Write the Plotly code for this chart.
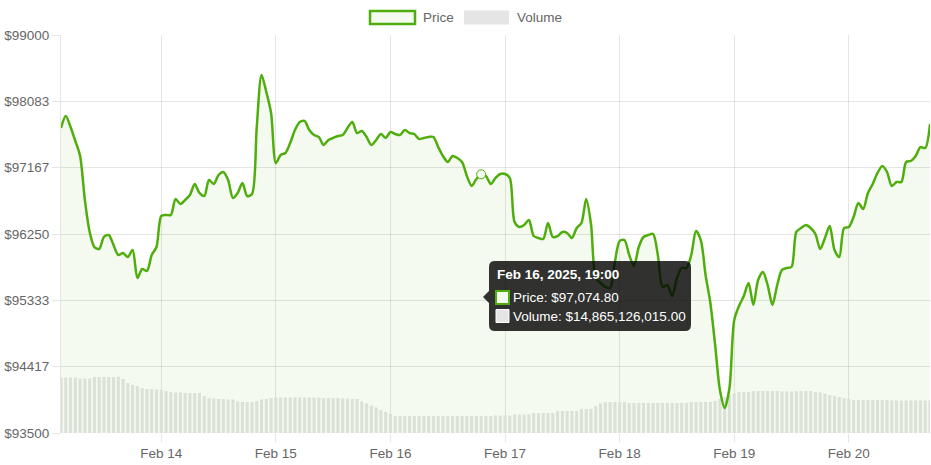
import pandas as pd
import plotly.graph_objects as go

# ---------------- data ----------------
start_time = "2025-02-13 03:00"
n_hours = 183
times = pd.date_range(start_time, periods=n_hours, freq="h")

price = [
    97715, 97881, 97729, 97535, 97328, 96720, 96278, 96070, 96043, 96209,
    96236, 96098, 95960, 95987, 95932, 96029, 95642, 95766, 95739, 95960,
    96070, 96499, 96513, 96513, 96734, 96665, 96720, 96789, 96941, 96817,
    96775, 96996, 96941, 97065, 97107, 96996, 96748, 96817, 96955, 96775,
    96803, 97729, 98447, 98212, 97922, 97231, 97342, 97369, 97508, 97687,
    97798, 97812, 97687, 97618, 97591, 97480, 97549, 97577, 97604, 97618,
    97715, 97798, 97646, 97673, 97591, 97480, 97549, 97632, 97577, 97660,
    97632, 97618, 97687, 97646, 97632, 97563, 97577, 97591, 97591, 97452,
    97328, 97245, 97328, 97300, 97245, 97052, 96913, 97010, 97074.80, 97052,
    96941, 97024, 97079, 97079, 97024, 96416, 96347, 96374, 96444, 96222,
    96195, 96181, 96402, 96209, 96222, 96278, 96264, 96195, 96333, 96402,
    96734, 96388, 95642, 95573, 95518, 95504, 95863, 96153, 96167, 95960,
    95808, 96070, 96209, 96236, 96250, 95960, 95518, 95545, 95393, 95642,
    95780, 95780, 95960, 96292, 96167, 95683, 95297, 94716, 94094, 93846,
    94122, 95062, 95255, 95393, 95573, 95269, 95614, 95725, 95545, 95269,
    95545, 95753, 95780, 95794, 96278, 96333, 96374, 96333, 96250, 96043,
    96195, 96361, 96029, 95932, 96333, 96347, 96485, 96678, 96596, 96817,
    96941, 97093, 97190, 97107, 96913, 96969, 96969, 97245, 97259, 97328,
    97452, 97438, 97770,
]

# volume in billions of USD
volume_bn = [
    48.53, 48.53, 48.53, 48.53, 47.65, 47.65, 47.65, 48.97, 48.97, 48.97,
    48.97, 48.97, 49.23, 47.22, 43.72, 41.97, 41.10, 39.35, 38.47, 38.47,
    38.04, 37.60, 36.72, 35.85, 35.41, 35.41, 34.98, 34.98, 34.98, 34.98,
    32.35, 30.60, 30.17, 29.73, 29.73, 29.29, 29.29, 27.54, 27.11, 27.11,
    27.11, 27.98, 29.29, 29.73, 30.60, 31.04, 31.04, 31.04, 31.04, 31.04,
    31.04, 31.04, 31.04, 31.04, 31.04, 30.60, 30.60, 30.60, 30.60, 30.17,
    30.17, 29.73, 29.73, 27.54, 25.79, 24.05, 22.30, 20.11, 18.36, 16.61,
    14.87, 14.87, 14.87, 14.87, 14.87, 14.87, 14.87, 14.87, 14.87, 14.87,
    14.87, 14.87, 14.87, 14.87, 14.87, 14.87, 14.87, 14.87, 14.865126015, 14.87,
    14.87, 15.30, 15.30, 15.30, 15.30, 16.18, 16.18, 16.18, 16.18, 17.49,
    17.49, 17.49, 17.49, 17.49, 19.24, 19.24, 19.24, 19.24, 19.24, 20.99,
    20.99, 20.99, 23.61, 25.79, 27.11, 27.11, 27.11, 27.11, 27.11, 26.23,
    26.23, 26.23, 26.23, 26.23, 26.23, 26.23, 26.23, 26.23, 26.23, 26.23,
    26.23, 26.23, 27.11, 27.11, 27.11, 27.11, 27.11, 27.98, 29.73, 31.48,
    33.23, 34.54, 35.85, 35.85, 35.85, 36.72, 36.72, 36.72, 36.72, 36.72,
    36.72, 36.29, 36.29, 36.29, 36.72, 36.72, 36.72, 36.72, 35.85, 35.41,
    34.54, 33.23, 32.35, 31.48, 30.60, 29.73, 28.86, 28.86, 28.86, 28.86,
    28.86, 28.86, 28.86, 28.86, 28.42, 28.42, 28.42, 28.42, 28.42, 28.42,
    28.42, 28.42, 28.42,
]

hover_index = 88
tooltip_title = "Feb 16, 2025, 19:00"
tooltip_price = "Price: $97,074.80"
tooltip_volume = "Volume: $14,865,126,015.00"

y_tick_values = [93500, 94417, 95333, 96250, 97167, 98083, 99000]
y_tick_labels = ["$93500", "$94417", "$95333", "$96250", "$97167", "$98083", "$99000"]
x_tick_dates = ["2025-02-14", "2025-02-15", "2025-02-16", "2025-02-17",
                "2025-02-18", "2025-02-19", "2025-02-20"]
x_tick_labels = ["Feb 14", "Feb 15", "Feb 16", "Feb 17", "Feb 18", "Feb 19", "Feb 20"]

# ---------------- style ----------------
W, H = 931, 465
L, R, T, B = 61, 1, 35, 32
GREEN = "#4fae0c"
FILL = "rgba(79,174,12,0.06)"
GRID = "rgba(0,0,0,0.1)"
TXT = "#666666"
FONT = "Liberation Sans, Arial, Helvetica, sans-serif"
FS = 13.5

pw, ph = W - L - R, H - T - B


def px(x):
    return (x - L) / pw


def py(y):
    return (H - B - y) / ph


volume = [v * 1e9 for v in volume_bn]

fig = go.Figure()
fig.add_trace(go.Bar(
    x=times, y=volume, yaxis="y", marker=dict(color="#e5e5e5", line=dict(width=0)),
    name="Volume", showlegend=False, hoverinfo="skip",
))
fig.add_trace(go.Scatter(
    x=times, y=price, yaxis="y2", mode="lines",
    line=dict(color=GREEN, width=2.5, shape="spline", smoothing=0.8),
    fill="tozeroy", fillcolor=FILL, name="Price", showlegend=False, hoverinfo="skip",
))
fig.add_trace(go.Scatter(
    x=[times[hover_index]], y=[price[hover_index]], yaxis="y2", mode="markers",
    marker=dict(size=9, color="rgba(244,250,240,1)", line=dict(color=GREEN, width=1)),
    showlegend=False, hoverinfo="skip",
))

shapes = []
annotations = []

# custom legend
shapes.append(dict(type="rect", xref="paper", yref="paper",
                   x0=px(370), x1=px(415), y0=py(24), y1=py(11),
                   line=dict(color=GREEN, width=2.5), fillcolor="#f4faf0"))
annotations.append(dict(text="Price", xref="paper", yref="paper", x=px(421), y=py(17.5),
                        xanchor="left", yanchor="middle", showarrow=False,
                        font=dict(family=FONT, size=FS, color=TXT)))
shapes.append(dict(type="rect", xref="paper", yref="paper",
                   x0=px(464), x1=px(509), y0=py(24.5), y1=py(10.5),
                   line=dict(width=0), fillcolor="#e5e5e5"))
annotations.append(dict(text="Volume", xref="paper", yref="paper", x=px(515), y=py(17.5),
                        xanchor="left", yanchor="middle", showarrow=False,
                        font=dict(family=FONT, size=FS, color=TXT)))

# tooltip box with caret
bx0, bx1, by0, by1, rr = 489, 691, 261, 331, 6
pts = [
    ("M", bx0 + rr, by0), ("L", bx1 - rr, by0), ("Q", bx1, by0, bx1, by0 + rr),
    ("L", bx1, by1 - rr), ("Q", bx1, by1, bx1 - rr, by1), ("L", bx0 + rr, by1),
    ("Q", bx0, by1, bx0, by1 - rr), ("L", bx0, 303), ("L", 483, 297), ("L", bx0, 291),
    ("L", bx0, by0 + rr), ("Q", bx0, by0, bx0 + rr, by0),
]
path = ""
for p in pts:
    cmd = p[0]
    coords = p[1:]
    s = " ".join(f"{px(coords[i]):.5f},{py(coords[i+1]):.5f}" for i in range(0, len(coords), 2))
    path += f"{cmd}{s} "
path += "Z"
shapes.append(dict(type="path", xref="paper", yref="paper", path=path,
                   fillcolor="rgba(0,0,0,0.8)", line=dict(width=0), layer="above"))
shapes.append(dict(type="rect", xref="paper", yref="paper",
                   x0=px(496), x1=px(509), y0=py(304), y1=py(291),
                   line=dict(color=GREEN, width=2), fillcolor="#f4faf0", layer="above"))
shapes.append(dict(type="rect", xref="paper", yref="paper",
                   x0=px(496), x1=px(509), y0=py(322.5), y1=py(309.5),
                   line=dict(color="#ffffff", width=1), fillcolor="#e5e5e5", layer="above"))
annotations.append(dict(text=f"<b>{tooltip_title}</b>", xref="paper", yref="paper",
                        x=px(495), y=py(274), xanchor="left", yanchor="middle", showarrow=False,
                        font=dict(family=FONT, size=FS, color="#ffffff")))
annotations.append(dict(text=tooltip_price, xref="paper", yref="paper",
                        x=px(511), y=py(297.5), xanchor="left", yanchor="middle", showarrow=False,
                        font=dict(family=FONT, size=FS, color="#ffffff")))
annotations.append(dict(text=tooltip_volume, xref="paper", yref="paper",
                        x=px(511), y=py(316), xanchor="left", yanchor="middle", showarrow=False,
                        font=dict(family=FONT, size=FS, color="#ffffff")))

fig.update_layout(
    width=W, height=H,
    margin=dict(l=L, r=R, t=T, b=B, pad=0),
    paper_bgcolor="white", plot_bgcolor="white",
    showlegend=False, bargap=0.35,
    font=dict(family=FONT, size=FS, color=TXT),
    xaxis=dict(
        type="date",
        range=[times[0], times[-1]],
        tickvals=x_tick_dates, ticktext=x_tick_labels,
        showgrid=True, gridcolor=GRID, gridwidth=1,
        ticks="outside", ticklen=8, tickcolor=GRID,
        showline=False, zeroline=False,
        tickfont=dict(family=FONT, size=FS, color=TXT),
    ),
    yaxis=dict(
        range=[0, 348e9], showgrid=False, showticklabels=False,
        zeroline=False, showline=False, ticks="",
    ),
    yaxis2=dict(
        overlaying="y", side="left",
        range=[93500, 99000],
        tickvals=y_tick_values, ticktext=y_tick_labels,
        showgrid=True, gridcolor=GRID, gridwidth=1,
        ticks="outside", ticklen=8, tickcolor=GRID,
        showline=True, linecolor=GRID, linewidth=1,
        zeroline=False,
        tickfont=dict(family=FONT, size=FS, color=TXT),
    ),
    shapes=shapes, annotations=annotations,
)

fig.write_html("out.html")
